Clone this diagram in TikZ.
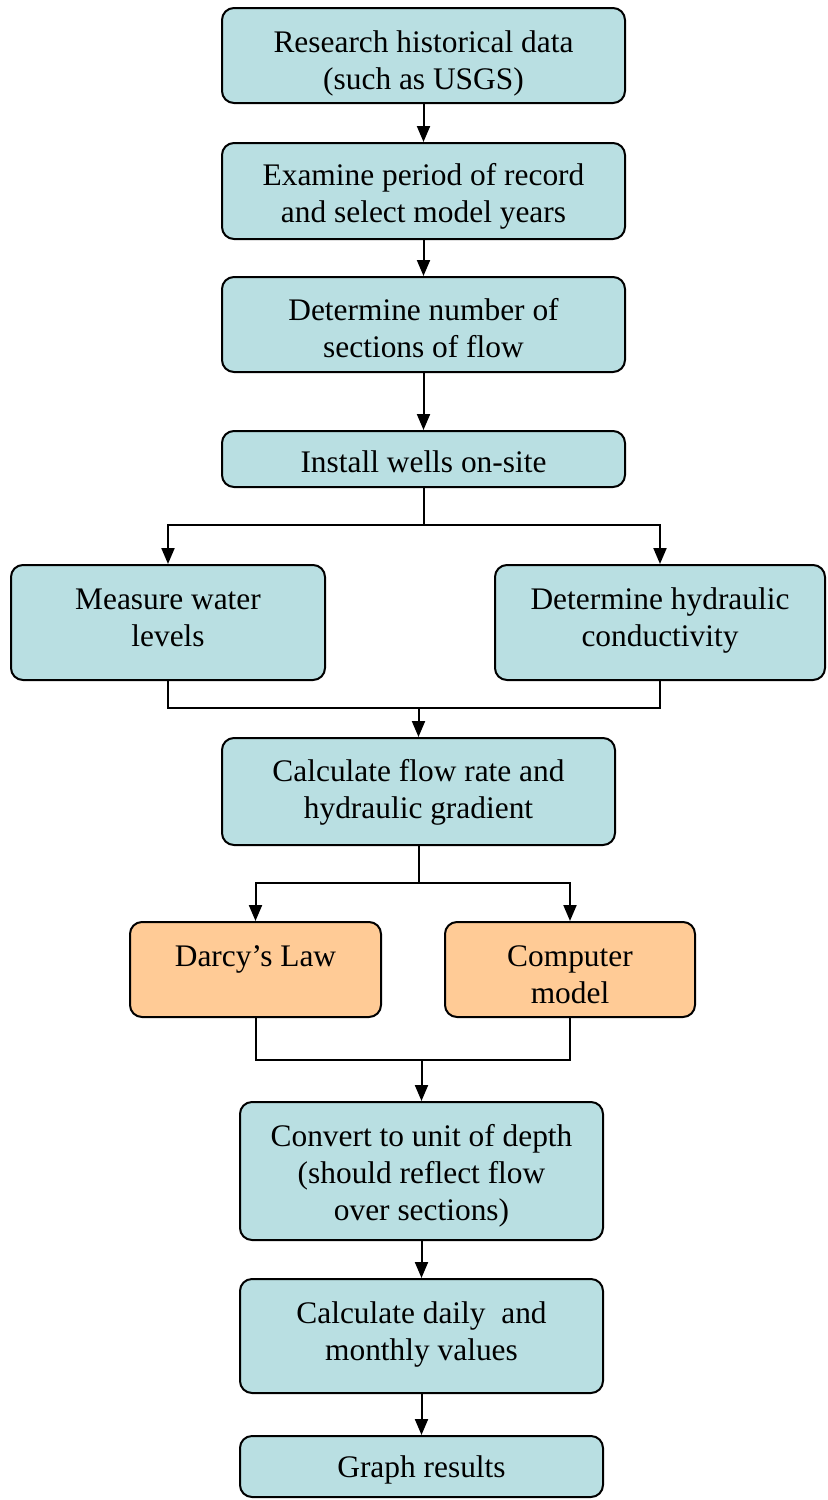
\documentclass[tikz,border=0pt]{standalone}
\usepackage{fontspec}
\setmainfont{Liberation Serif}
\usetikzlibrary{arrows.meta}
\definecolor{stepblue}{HTML}{B9DFE2}
\definecolor{steporange}{HTML}{FFCB96}
\tikzset{
	flowbox/.style={draw, line width=1pt, rounded corners=6pt, fill=stepblue,
			align=center, inner sep=0pt, font=\fontsize{15.7}{18.5}\selectfont,
			text depth=0pt},
	altbox/.style={flowbox, fill=steporange},
	arr/.style={-{Triangle[length=8pt,width=6.5pt]}, line width=1pt},
	link/.style={line width=1pt}
}

\begin{document}
\begin{tikzpicture}[x=0.5pt,y=-0.5pt]
	\useasboundingbox (0,0) rectangle (828,1500);

	% The main column
	\node[flowbox, text height=34pt, minimum width=201.5pt, minimum height=47.5pt] (research) at (423.5,55.5) {Research historical data\\(such as USGS)};
	\node[flowbox, text height=31.5pt, minimum width=201.5pt, minimum height=48pt] (examine) at (423.5,191) {Examine period of record\\and select model years};
	\node[flowbox, text height=33pt, minimum width=201.5pt, minimum height=47.5pt] (sections) at (423.5,324.5) {Determine number of\\sections of flow};
	\node[flowbox, text height=13.5pt, minimum width=201.5pt, minimum height=28pt] (wells) at (423.5,459) {Install wells on-site};

	% Field measurements
	\node[flowbox, text height=24pt, minimum width=157pt, minimum height=57.5pt] (levels) at (168,622.5) {Measure water\\levels};
	\node[flowbox, text height=24pt, minimum width=165pt, minimum height=57.5pt] (conduct) at (660,622.5) {Determine hydraulic\\conductivity};

	\node[flowbox, text height=27pt, minimum width=196.5pt, minimum height=53.5pt] (flowrate) at (418.5,791.5) {Calculate flow rate and\\hydraulic gradient};

	% Two methods
	\node[altbox, text height=0pt, text depth=3pt, minimum width=125.5pt, minimum height=47.5pt] (darcy) at (255.5,969.5) {Darcy’s Law};
	\node[altbox, text height=34pt, minimum width=125pt, minimum height=47.5pt] (model) at (570,969.5) {Computer\\model};

	% Final steps
	\node[flowbox, text height=49.5pt, minimum width=181.5pt, minimum height=69pt] (convert) at (421.5,1171) {Convert to unit of depth\\(should reflect flow\\over sections)};
	\node[flowbox, text height=24.5pt, minimum width=181.5pt, minimum height=57pt] (daily) at (421.5,1336) {Calculate daily~ and\\monthly values};
	\node[flowbox, text height=11pt, minimum width=181.5pt, minimum height=30.5pt] (graph) at (421.5,1466.5) {Graph results};

	% Branch and join points
	\coordinate (fork1) at (423.5,525);
	\coordinate (join1) at (418.5,708);
	\coordinate (fork2) at (418.5,883);
	\coordinate (join2) at (421.5,1060);

	% Connectors
	\draw[arr] (research) -- (examine);
	\draw[arr] (examine) -- (sections);
	\draw[arr] (sections) -- (wells);
	\draw[link] (wells) -- (fork1);
	\draw[arr] (fork1) -| (levels);
	\draw[arr] (fork1) -| (conduct);
	\draw[link] (levels) |- (join1) -| (conduct);
	\draw[arr] (join1) -- (flowrate);
	\draw[link] (flowrate) -- (fork2);
	\draw[arr] (fork2) -| (darcy);
	\draw[arr] (fork2) -| (model);
	\draw[link] (darcy) |- (join2) -| (model);
	\draw[arr] (join2) -- (convert);
	\draw[arr] (convert) -- (daily);
	\draw[arr] (daily) -- (graph);
\end{tikzpicture}
\end{document}
